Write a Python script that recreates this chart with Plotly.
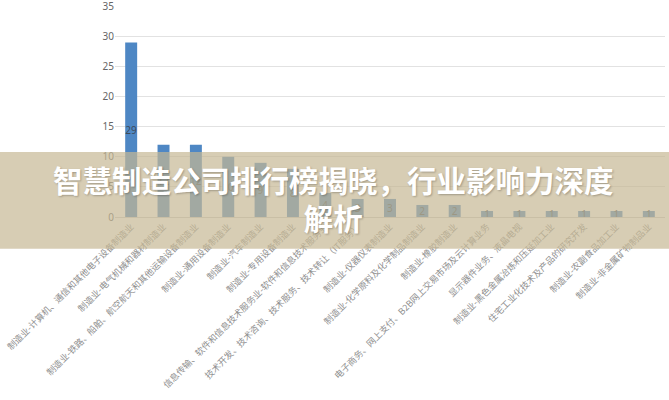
import plotly.graph_objects as go

categories = [
    "制造业-计算机、通信和其他电子设备制造业",
    "制造业-电气机械和器材制造业",
    "制造业-铁路、船舶、航空航天和其他运输设备制造业",
    "制造业-通用设备制造业",
    "制造业-汽车制造业",
    "制造业-专用设备制造业",
    "信息传输、软件和信息技术服务业-软件和信息技术服务业",
    "技术开发、技术咨询、技术服务、技术转让（IT服务）",
    "制造业-仪器仪表制造业",
    "制造业-化学原料及化学制品制造业",
    "制造业-橡胶制造业",
    "电子商务、网上支付、B2B网上交易市场及云计算业务",
    "显示器件业务、液晶电视",
    "制造业-黑色金属冶炼和压延加工业",
    "住宅工业化技术及产品的研究开发",
    "制造业-农副食品加工业",
    "制造业-非金属矿物制品业",
]
values = [29, 12, 12, 10, 9, 8, 4, 3, 3, 2, 2, 1, 1, 1, 1, 1, 1]
y_ticks = [0, 5, 10, 15, 20, 25, 30, 35]

title_line1 = "智慧制造公司排行榜揭晓，行业影响力深度"
title_line2 = "解析"

fig = go.Figure(
    go.Bar(
        x=categories,
        y=values,
        marker=dict(color="#4E87C4", line=dict(width=0)),
        text=[str(v) for v in values],
        textposition="inside",
        insidetextanchor="middle",
        textangle=0,
        textfont=dict(size=10, color="#3d4a5a", family="Noto Sans"),
        constraintext="none",
    )
)

fig.update_layout(
    width=669,
    height=400,
    margin=dict(l=115, r=4, t=6, b=183, autoexpand=False),
    paper_bgcolor="white",
    plot_bgcolor="white",
    bargap=0.63,
    showlegend=False,
    xaxis=dict(
        tickangle=-45,
        tickfont=dict(size=9, color="#8f8f8f", family="Noto Sans CJK SC"),
        showline=True,
        linecolor="#d0d0d0",
        linewidth=1,
        ticks="",
        showgrid=False,
        automargin=False,
    ),
    yaxis=dict(
        range=[0, 35.05],
        tickvals=y_ticks,
        tickfont=dict(size=10, color="#666666", family="Noto Sans"),
        showgrid=True,
        gridcolor="#e2e2e2",
        gridwidth=1,
        zeroline=False,
        showline=False,
        ticks="",
        automargin=False,
        ticklabeloverflow="allow",
    ),
    shapes=[
        dict(
            type="rect",
            xref="paper",
            yref="paper",
            x0=-0.215,
            x1=1.01,
            y0=-0.15,
            y1=0.308,
            fillcolor="rgba(198,184,148,0.7)",
            line=dict(width=0),
            layer="above",
        )
    ],
    annotations=[
        dict(
            xref="paper",
            yref="paper",
            x=0.397,
            y=0.088,
            text="<b>" + title_line1 + "<br>" + title_line2 + "</b>",
            showarrow=False,
            xanchor="center",
            yanchor="middle",
            align="center",
            font=dict(size=29.5, color="white", family="Noto Sans CJK SC",
                      shadow="1px 1px 2px rgba(0,0,0,0.25)"),
        )
    ],
)

fig.write_html(
    "out.html",
    config={"displayModeBar": False},
    post_script="document.body.style.margin='0';document.body.style.overflow='hidden';",
)
